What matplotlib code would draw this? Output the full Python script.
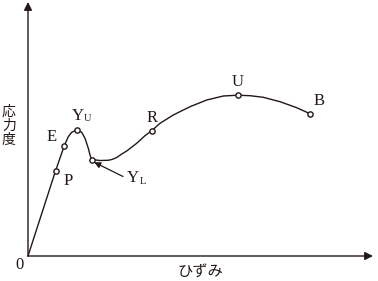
import matplotlib
matplotlib.use('Agg')
import matplotlib.pyplot as plt

plt.rcParams['font.family'] = ['Liberation Serif', 'Noto Sans CJK JP']

# stress-strain curve (arbitrary units)
strain = [0.0, 2.75, 3.63, 4.03, 4.37, 4.85, 5.37, 5.7, 6.03, 6.2, 6.35,
          7.2, 8.0, 8.4, 8.87, 9.3, 9.87, 10.87, 11.7, 12.37, 13.2, 14.53,
          16.2, 17.87, 19.53, 20.97, 22.2, 23.53, 25.2, 26.87, 28.15]
stress = [0.0, 8.5, 11.03, 11.93, 12.37, 12.6, 12.37, 11.77, 10.77, 10.1, 9.65,
          9.55, 9.57, 9.65, 9.85, 10.15, 10.5, 11.27, 12.03, 12.53, 13.27, 14.1,
          14.93, 15.6, 16.0, 16.08, 16.03, 15.87, 15.43, 14.83, 14.25]

# marked points: P, E, Yu, YL, R, U, B
key_strain = [2.75, 3.63, 4.85, 6.35, 12.37, 20.97, 28.15]
key_stress = [8.5, 11.03, 12.6, 9.65, 12.53, 16.08, 14.25]

fig = plt.figure(figsize=(3.78, 2.81), dpi=100)
ax = fig.add_axes([0, 0, 1, 1])
ax.set_xlim(-2.8, 35.0)
ax.set_ylim(-2.5, 25.6)
ax.axis('off')

# axes with arrow heads
arrow_kw = dict(arrowstyle='-|>', mutation_scale=12, lw=1.0, color='#231815',
                shrinkA=0, shrinkB=0)
ax.annotate('', xy=(34.5, 0), xytext=(0, 0), arrowprops=arrow_kw)
ax.annotate('', xy=(0, 25.4), xytext=(0, 0), arrowprops=arrow_kw)

ax.plot(strain, stress, color='#231815', lw=1.0)
ax.plot(key_strain, key_stress, 'o', ms=3.8, mfc='white', mec='#231815', mew=1.0)

lbl = dict(fontsize=12, color='#231815', ha='center', va='center')
sub = dict(fontsize=7.5, color='#231815', ha='center', va='center')
ax.text(3.98, 7.5, 'P', **lbl)
ax.text(2.37, 11.93, 'E', **lbl)
ax.text(5.0, 14.0, 'Y', **lbl)
ax.text(5.9, 13.75, 'U', **sub)
ax.text(10.45, 7.75, 'Y', **lbl)
ax.text(11.5, 7.45, 'L', **sub)
ax.text(12.4, 13.85, 'R', **lbl)
ax.text(20.97, 17.37, 'U', **lbl)
ax.text(29.07, 15.5, 'B', **lbl)
ax.text(-0.9, -0.9, '0', **lbl)

# pointer to lower yield point
ax.annotate('', xy=(6.63, 9.37), xytext=(9.5, 7.95),
            arrowprops=dict(arrowstyle='-|>', mutation_scale=9, lw=0.9,
                            color='#231815', shrinkA=0, shrinkB=0))

ax.text(17.2, -1.6, 'ひずみ', fontsize=11, color='#231815', ha='center',
        va='center', family=['Noto Sans CJK JP'])
ax.text(-1.9, 13.0, '応\n力\n度', fontsize=10, color='#231815', ha='center',
        va='center', linespacing=1.0, family=['Noto Sans CJK JP'])

fig.savefig('out.png', dpi=100)
